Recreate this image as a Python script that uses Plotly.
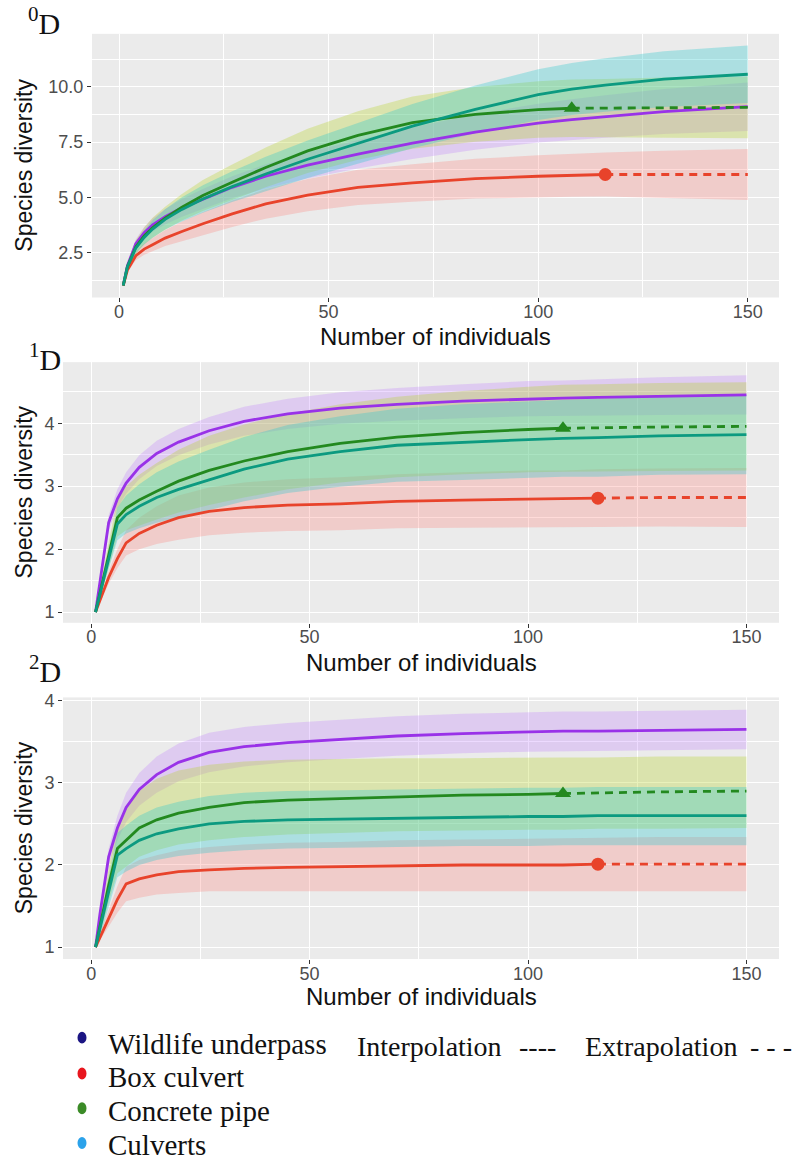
import plotly.graph_objects as go

W, H = 797, 1160

# ---- sites and styling -------------------------------------------------
SITES = ["Wildlife underpass", "Box culvert", "Concrete pipe", "Culverts"]
LINE_COLORS = ["#9932E8", "#E8432B", "#23891F", "#0C9A80"]
BAND_COLORS = ["rgba(190,120,255,0.27)", "rgba(255,105,95,0.24)",
               "rgba(185,212,45,0.32)", "rgba(40,200,205,0.32)"]
DOT_COLORS = ["#1B1583", "#E8161E", "#3B8B27", "#2BA2EA"]
OBS_N = [None, 116, 108, None]          # observed sample size (reference sample)
OBS_SYMBOL = [None, "circle", "triangle-up", None]

# sample sizes (number of individuals)
m = [1, 2, 4, 6, 8, 11, 15, 20, 27, 35, 45, 57, 70, 85, 100, 108, 116, 130, 150]

# ---- q = 0 (species richness) -----------------------------------------
q0_wu    = [1, 1.9, 2.9, 3.4, 3.75, 4.12, 4.52, 4.92, 5.45, 5.95, 6.45, 6.95, 7.45, 7.95, 8.36, 8.52, 8.66, 8.88, 9.1]
q0_wu_lo = [1, 1.8, 2.7, 3.15, 3.45, 3.77, 4.12, 4.47, 4.95, 5.4, 5.85, 6.3, 6.73, 7.15, 7.48, 7.6, 7.7, 7.86, 8.0]
q0_wu_hi = [1, 2.0, 3.1, 3.65, 4.05, 4.47, 4.92, 5.37, 5.95, 6.5, 7.05, 7.6, 8.17, 8.75, 9.24, 9.44, 9.62, 9.9, 10.2]

q0_bc    = [1, 1.7, 2.35, 2.65, 2.85, 3.15, 3.45, 3.8, 4.25, 4.7, 5.1, 5.45, 5.65, 5.84, 5.95, 6.0, 6.03, 6.03, 6.03]
q0_bc_lo = [1, 1.6, 2.15, 2.4, 2.55, 2.79, 3.0, 3.28, 3.65, 4.03, 4.37, 4.65, 4.8, 4.94, 5.0, 5.02, 5.03, 4.95, 4.88]
q0_bc_hi = [1, 1.8, 2.55, 2.9, 3.15, 3.51, 3.9, 4.32, 4.85, 5.37, 5.83, 6.25, 6.5, 6.74, 6.9, 6.98, 7.03, 7.11, 7.18]

q0_cp    = [1, 1.85, 2.75, 3.25, 3.62, 4.05, 4.55, 5.08, 5.68, 6.35, 7.1, 7.8, 8.38, 8.75, 8.97, 9.03, 9.04, 9.06, 9.07]
q0_cp_lo = [1, 1.7, 2.45, 2.87, 3.17, 3.53, 3.95, 4.38, 4.88, 5.45, 6.1, 6.7, 7.2, 7.51, 7.69, 7.73, 7.72, 7.7, 7.67]
q0_cp_hi = [1, 2.0, 3.05, 3.63, 4.07, 4.57, 5.15, 5.78, 6.48, 7.25, 8.1, 8.9, 9.56, 9.99, 10.25, 10.33, 10.36, 10.42, 10.47]

q0_cu    = [1, 1.85, 2.7, 3.18, 3.56, 4.0, 4.45, 4.92, 5.48, 6.05, 6.72, 7.45, 8.22, 8.98, 9.65, 9.9, 10.08, 10.35, 10.57]
q0_cu_lo = [1, 1.73, 2.45, 2.86, 3.16, 3.54, 3.9, 4.3, 4.78, 5.27, 5.87, 6.53, 7.22, 7.9, 8.5, 8.72, 8.87, 9.09, 9.27]
q0_cu_hi = [1, 1.97, 2.95, 3.5, 3.96, 4.46, 5.0, 5.54, 6.18, 6.83, 7.57, 8.37, 9.22, 10.06, 10.8, 11.08, 11.29, 11.61, 11.87]

# ---- q = 1 (Shannon diversity) ----------------------------------------
q1_wu    = [1, 1.47, 2.42, 2.8, 3.05, 3.3, 3.52, 3.7, 3.88, 4.03, 4.15, 4.24, 4.3, 4.35, 4.39, 4.4, 4.41, 4.43, 4.45]
q1_wu_lo = [1, 1.42, 2.3, 2.65, 2.88, 3.11, 3.32, 3.49, 3.66, 3.8, 3.91, 3.99, 4.04, 4.08, 4.11, 4.12, 4.12, 4.13, 4.14]
q1_wu_hi = [1, 1.52, 2.54, 2.95, 3.22, 3.49, 3.72, 3.91, 4.1, 4.26, 4.39, 4.49, 4.56, 4.62, 4.67, 4.68, 4.7, 4.73, 4.76]

q1_bc    = [1, 1.18, 1.55, 1.85, 2.1, 2.25, 2.38, 2.5, 2.6, 2.66, 2.7, 2.72, 2.76, 2.78, 2.8, 2.8, 2.81, 2.82, 2.82]
q1_bc_lo = [1, 1.13, 1.45, 1.7, 1.9, 2.0, 2.08, 2.15, 2.22, 2.26, 2.29, 2.3, 2.33, 2.34, 2.35, 2.35, 2.35, 2.36, 2.35]
q1_bc_hi = [1, 1.23, 1.65, 2.0, 2.3, 2.5, 2.68, 2.85, 2.98, 3.06, 3.11, 3.14, 3.19, 3.22, 3.25, 3.25, 3.27, 3.28, 3.29]

q1_cp    = [1, 1.3, 1.9, 2.5, 2.65, 2.78, 2.92, 3.08, 3.25, 3.4, 3.55, 3.68, 3.78, 3.85, 3.9, 3.92, 3.93, 3.94, 3.95]
q1_cp_lo = [1, 1.2, 1.7, 2.2, 2.3, 2.38, 2.47, 2.58, 2.7, 2.82, 2.95, 3.06, 3.14, 3.19, 3.22, 3.23, 3.24, 3.24, 3.25]
q1_cp_hi = [1, 1.4, 2.1, 2.8, 3.0, 3.18, 3.37, 3.58, 3.8, 3.98, 4.15, 4.3, 4.42, 4.51, 4.58, 4.61, 4.62, 4.64, 4.65]

q1_cu    = [1, 1.28, 1.85, 2.4, 2.55, 2.68, 2.82, 2.95, 3.1, 3.27, 3.43, 3.55, 3.65, 3.7, 3.74, 3.76, 3.77, 3.8, 3.82]
q1_cu_lo = [1, 1.2, 1.67, 2.14, 2.25, 2.33, 2.42, 2.51, 2.62, 2.76, 2.89, 2.99, 3.07, 3.1, 3.13, 3.15, 3.15, 3.18, 3.19]
q1_cu_hi = [1, 1.36, 2.03, 2.66, 2.85, 3.03, 3.22, 3.39, 3.58, 3.78, 3.97, 4.11, 4.23, 4.3, 4.35, 4.37, 4.39, 4.42, 4.45]

# ---- q = 2 (Simpson diversity) ----------------------------------------
q2_wu    = [1, 1.4, 2.1, 2.45, 2.7, 2.92, 3.1, 3.25, 3.37, 3.44, 3.49, 3.53, 3.57, 3.6, 3.62, 3.63, 3.63, 3.64, 3.65]
q2_wu_lo = [1, 1.35, 2.0, 2.3, 2.52, 2.72, 2.88, 3.02, 3.13, 3.2, 3.25, 3.29, 3.33, 3.36, 3.38, 3.39, 3.39, 3.4, 3.41]
q2_wu_hi = [1, 1.45, 2.2, 2.6, 2.88, 3.12, 3.32, 3.48, 3.61, 3.68, 3.73, 3.77, 3.81, 3.84, 3.86, 3.87, 3.87, 3.88, 3.89]

q2_bc    = [1, 1.12, 1.35, 1.58, 1.77, 1.83, 1.88, 1.92, 1.94, 1.96, 1.97, 1.98, 1.99, 2.0, 2.0, 2.0, 2.01, 2.01, 2.01]
q2_bc_lo = [1, 1.07, 1.25, 1.42, 1.56, 1.6, 1.64, 1.66, 1.68, 1.68, 1.68, 1.68, 1.68, 1.68, 1.68, 1.68, 1.68, 1.68, 1.68]
q2_bc_hi = [1, 1.17, 1.45, 1.74, 1.98, 2.06, 2.12, 2.18, 2.22, 2.25, 2.27, 2.28, 2.3, 2.31, 2.32, 2.33, 2.33, 2.34, 2.34]

q2_cp    = [1, 1.25, 1.75, 2.2, 2.3, 2.45, 2.55, 2.63, 2.7, 2.76, 2.79, 2.81, 2.83, 2.85, 2.86, 2.87, 2.88, 2.89, 2.9]
q2_cp_lo = [1, 1.15, 1.55, 1.9, 1.98, 2.1, 2.18, 2.25, 2.3, 2.34, 2.37, 2.39, 2.41, 2.42, 2.43, 2.43, 2.44, 2.44, 2.45]
q2_cp_hi = [1, 1.35, 1.95, 2.5, 2.7, 2.9, 3.05, 3.15, 3.22, 3.26, 3.28, 3.29, 3.3, 3.3, 3.31, 3.31, 3.31, 3.32, 3.32]

q2_cu    = [1, 1.22, 1.68, 2.12, 2.2, 2.3, 2.38, 2.44, 2.5, 2.53, 2.55, 2.56, 2.57, 2.58, 2.59, 2.59, 2.6, 2.6, 2.6]
q2_cu_lo = [1, 1.12, 1.5, 1.85, 1.92, 2.0, 2.06, 2.11, 2.15, 2.18, 2.2, 2.21, 2.22, 2.23, 2.23, 2.24, 2.24, 2.24, 2.24]
q2_cu_hi = [1, 1.32, 1.86, 2.39, 2.48, 2.6, 2.7, 2.77, 2.84, 2.88, 2.9, 2.91, 2.92, 2.93, 2.94, 2.94, 2.95, 2.95, 2.95]

# ---- panel labels and axis settings -----------------------------------
PANEL_LABELS = ["<sup>0</sup>D", "<sup>1</sup>D", "<sup>2</sup>D"]
Y_TITLE = "Species diversity"
X_TITLE = "Number of individuals"

panels = [
    [(q0_wu, q0_wu_lo, q0_wu_hi), (q0_bc, q0_bc_lo, q0_bc_hi),
     (q0_cp, q0_cp_lo, q0_cp_hi), (q0_cu, q0_cu_lo, q0_cu_hi)],
    [(q1_wu, q1_wu_lo, q1_wu_hi), (q1_bc, q1_bc_lo, q1_bc_hi),
     (q1_cp, q1_cp_lo, q1_cp_hi), (q1_cu, q1_cu_lo, q1_cu_hi)],
    [(q2_wu, q2_wu_lo, q2_wu_hi), (q2_bc, q2_bc_lo, q2_bc_hi),
     (q2_cp, q2_cp_lo, q2_cp_hi), (q2_cu, q2_cu_lo, q2_cu_hi)],
]

# pixel boxes of each panel (left, right, top, bottom)
BOXES = [(92, 779, 28, 293), (63, 779, 358, 620), (63, 779, 695, 958)]
Y_RANGES = [[0.46, 12.4], [0.83, 4.97], [0.855, 4.04]]
Y_DTICK = [2.5, 1, 1]
Y_MINOR = [1.25, 0.5, 0.5]
Y_FMT = [".1f", "d", "d"]
X_RANGE = [-6.45, 157.45]

SANS = "Liberation Sans, Arial, sans-serif"
SERIF = "Liberation Serif, Times New Roman, serif"


def px(x):
    return x / W


def py(y):
    return 1 - y / H


fig = go.Figure()

for p, series in enumerate(panels):
    xa = "x" if p == 0 else f"x{p + 1}"
    ya = "y" if p == 0 else f"y{p + 1}"
    # confidence bands
    for s, (mid, lo, hi) in enumerate(series):
        fig.add_trace(go.Scatter(
            x=m + m[::-1], y=hi + lo[::-1], xaxis=xa, yaxis=ya,
            fill="toself", fillcolor=BAND_COLORS[s], mode="lines",
            line=dict(width=0), hoverinfo="skip", showlegend=False))
    # rarefaction / extrapolation curves
    for s, (mid, lo, hi) in enumerate(series):
        n = OBS_N[s]
        if n is None:
            fig.add_trace(go.Scatter(
                x=m, y=mid, xaxis=xa, yaxis=ya, mode="lines",
                line=dict(color=LINE_COLORS[s], width=2.8),
                name=SITES[s], showlegend=False))
            continue
        k = m.index(n)
        fig.add_trace(go.Scatter(
            x=m[:k + 1], y=mid[:k + 1], xaxis=xa, yaxis=ya, mode="lines",
            line=dict(color=LINE_COLORS[s], width=2.8),
            name=SITES[s], showlegend=False))
        fig.add_trace(go.Scatter(
            x=m[k:], y=mid[k:], xaxis=xa, yaxis=ya, mode="lines",
            line=dict(color=LINE_COLORS[s], width=2.8, dash="8px,6px"),
            name=SITES[s], showlegend=False))
        fig.add_trace(go.Scatter(
            x=[m[k]], y=[mid[k]], xaxis=xa, yaxis=ya, mode="markers",
            marker=dict(symbol=OBS_SYMBOL[s], color=LINE_COLORS[s],
                        size=14 if OBS_SYMBOL[s] == "triangle-up" else 13),
            name=SITES[s], showlegend=False))

layout = dict(
    width=W, height=H, margin=dict(l=0, r=0, t=0, b=0),
    paper_bgcolor="white", plot_bgcolor="#EBEBEB",
    showlegend=False, font=dict(family=SANS, color="#000000"),
)

annotations = []
for p in range(3):
    l, r, t, b = BOXES[p]
    xk = "xaxis" if p == 0 else f"xaxis{p + 1}"
    yk = "yaxis" if p == 0 else f"yaxis{p + 1}"
    ya = "y" if p == 0 else f"y{p + 1}"
    xa = "x" if p == 0 else f"x{p + 1}"
    layout[xk] = dict(
        domain=[px(l), px(r)], anchor=ya, range=X_RANGE,
        tick0=0, dtick=50, showgrid=True, gridcolor="white", gridwidth=1.3,
        zeroline=False, showline=False,
        ticks="outside", ticklen=4, tickwidth=1, tickcolor="#333333",
        ticklabelstandoff=-6,
        tickfont=dict(size=18, color="#4D4D4D", family=SANS),
        minor=dict(dtick=25, tick0=0, showgrid=True, gridcolor="white",
                   gridwidth=0.6, ticks=""),
    )
    layout[yk] = dict(
        domain=[py(b), py(t)], anchor=xa, range=Y_RANGES[p],
        tick0=0, dtick=Y_DTICK[p], tickformat=Y_FMT[p],
        showgrid=True, gridcolor="white", gridwidth=1.3,
        zeroline=False, showline=False,
        ticks="outside", ticklen=4, tickwidth=1, tickcolor="#333333",
        tickfont=dict(size=18, color="#4D4D4D", family=SANS),
        minor=dict(dtick=Y_MINOR[p], tick0=0, showgrid=True, gridcolor="white",
                   gridwidth=0.6, ticks=""),
    )
    # panel label
    annotations.append(dict(
        x=px(26 if p == 0 else 27), y=py([15, 353, 666][p]), xref="paper", yref="paper",
        xanchor="left", yanchor="middle", showarrow=False,
        text=PANEL_LABELS[p], font=dict(family=SERIF, size=30, color="#111111")))
    # y-axis title
    annotations.append(dict(
        x=px(24), y=py((t + b) / 2), xref="paper", yref="paper",
        xanchor="center", yanchor="middle", textangle=-90, showarrow=False,
        text=Y_TITLE, font=dict(family=SANS, size=23, color="#111111")))
    # x-axis title
    annotations.append(dict(
        x=px((l + r) / 2), y=py([332, 660, 996][p]), xref="paper", yref="paper",
        xanchor="center", yanchor="middle", showarrow=False,
        text=X_TITLE, font=dict(family=SANS, size=24, color="#111111")))

# site key
shapes = []
DOT_Y = [1037, 1073, 1108, 1143]
TEXT_Y = [1043, 1077, 1111, 1145]
for i, site in enumerate(SITES):
    shapes.append(dict(
        type="circle", xref="paper", yref="paper",
        x0=px(77.5), x1=px(86.5), y0=py(DOT_Y[i] + 6), y1=py(DOT_Y[i] - 6),
        fillcolor=DOT_COLORS[i], line=dict(width=0)))
    annotations.append(dict(
        x=px(106), y=py(TEXT_Y[i]), xref="paper", yref="paper",
        xanchor="left", yanchor="middle", showarrow=False,
        text=site, font=dict(family=SERIF, size=29, color="#111111")))

# line-type key
for label, xpos in [("Interpolation", 355), ("----", 517),
                    ("Extrapolation", 583), ("- - -", 748)]:
    annotations.append(dict(
        x=px(xpos), y=py(1046), xref="paper", yref="paper",
        xanchor="left", yanchor="middle", showarrow=False,
        text=label, font=dict(family=SERIF, size=28, color="#111111")))

layout["annotations"] = annotations
layout["shapes"] = shapes
fig.update_layout(**layout)

fig.write_html("out.html")
